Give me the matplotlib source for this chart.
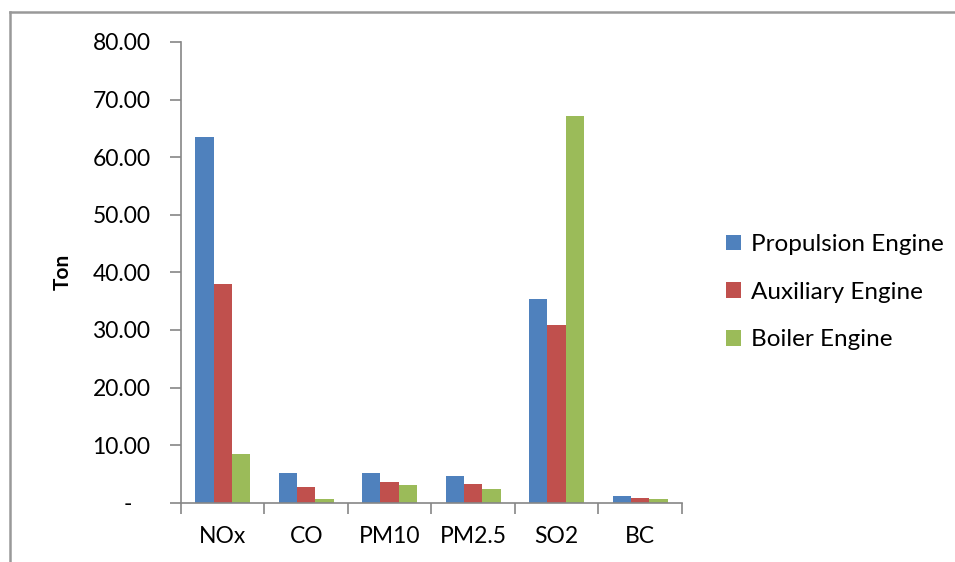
import matplotlib.pyplot as plt
import numpy as np
from matplotlib.lines import Line2D
from matplotlib.ticker import FuncFormatter

plt.rcParams['font.family'] = ['Lato', 'DejaVu Sans']

pollutants = ["NOx", "CO", "PM10", "PM2.5", "SO2", "BC"]
propulsion = [63.5, 5.1, 5.1, 4.6, 35.3, 1.2]
auxiliary = [38.0, 2.7, 3.6, 3.3, 30.8, 0.8]
boiler = [8.4, 0.7, 3.1, 2.3, 67.2, 0.6]

series_names = ["Propulsion Engine", "Auxiliary Engine", "Boiler Engine"]
colors = ["#4F81BD", "#C0504D", "#9BBB59"]
axis_gray = "#868686"

fig = plt.figure(figsize=(9.55, 5.62), dpi=100)
ax = fig.add_axes([0.1895, 0.1055, 0.5245, 0.8198])

x = np.arange(len(pollutants))
w = 0.22
for i, (vals, name, c) in enumerate(zip([propulsion, auxiliary, boiler], series_names, colors)):
    ax.bar(x + (i - 1) * w, vals, width=w, color=c, label=name)

ax.set_xlim(-0.5, len(pollutants) - 0.5)
ax.set_ylim(0, 80)
ax.set_yticks(np.arange(0, 81, 10))
ax.yaxis.set_major_formatter(FuncFormatter(lambda v, p: "-   " if v == 0 else f"{v:.2f}"))

# category labels sit between boundary ticks
ax.set_xticks(np.arange(-0.5, len(pollutants), 1.0))
ax.set_xticklabels([])
ax.set_xticks(x, minor=True)
ax.set_xticklabels(pollutants, minor=True)
ax.tick_params(axis="x", which="minor", length=0, pad=17, labelsize=16.5)
ax.tick_params(axis="x", which="major", length=8, width=1.2, color=axis_gray)
ax.tick_params(axis="y", length=8, width=1.2, color=axis_gray, pad=14, labelsize=16.5)

for s in ["top", "right"]:
    ax.spines[s].set_visible(False)
for s in ["left", "bottom"]:
    ax.spines[s].set_color(axis_gray)
    ax.spines[s].set_linewidth(1.2)

ax.set_ylabel("Ton", fontsize=15, fontweight="bold", labelpad=14)

ax.legend(loc="center left", bbox_to_anchor=(0.748, 0.48), bbox_transform=fig.transFigure,
          frameon=False, fontsize=17.5, handlelength=0.6, handleheight=0.6,
          handletextpad=0.4, labelspacing=1.1, borderpad=0)

# outer chart frame
fig.add_artist(Line2D([10 / 955, 10 / 955], [-0.05, 1 - 12 / 562], color="#999999", lw=1.8))
fig.add_artist(Line2D([10 / 955, 1.05], [1 - 12 / 562, 1 - 12 / 562], color="#999999", lw=1.8))

fig.savefig("out.png", dpi=100)
